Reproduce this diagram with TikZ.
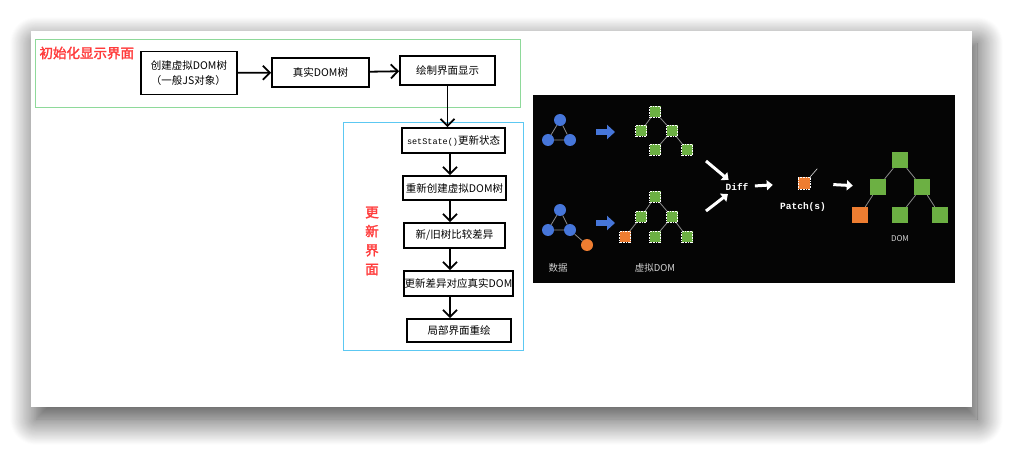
\documentclass[tikz,border=0pt]{standalone}
\usepackage{fontspec}
\newfontfamily\cjk{Noto Sans CJK SC}
\newfontfamily\cjkbold[FakeBold=2]{Noto Sans CJK SC}
\newfontfamily\mono{Liberation Mono}
\usetikzlibrary{arrows.meta,shadows.blur}
\definecolor{initgreen}{HTML}{8ED99A}
\definecolor{updblue}{HTML}{5CC8F2}
\definecolor{labelred}{HTML}{FF3B3B}
\definecolor{leafgreen}{HTML}{6CB043}
\definecolor{leaforange}{HTML}{EE7D31}
\definecolor{dotblue}{HTML}{4676DA}
\definecolor{edgegray}{HTML}{8C8C8C}
\definecolor{panelblack}{HTML}{050505}
\definecolor{captiongray}{HTML}{D2D2D2}

\begin{document}
\begin{tikzpicture}[x=1pt,y=-1pt,
    flowbox/.style={draw=black, line width=1.8pt, inner sep=1pt, font=\cjk\fontsize{10.5}{15}\selectfont},
    flowarrow/.style={line width=1.8pt, -{Straight Barb[length=7pt,width=14pt,line width=1.8pt]}},
    redlabel/.style={text=labelred, font=\cjkbold\fontsize{13.5}{19}\selectfont},
    vleaf/.style={fill=leafgreen, draw=white, dash pattern=on 0.8pt off 0.8pt, line width=0.6pt, minimum size=11pt, inner sep=0pt},
    vorange/.style={vleaf, fill=leaforange},
    leaf/.style={fill=leafgreen, minimum size=16pt, inner sep=0pt},
    oleaf/.style={leaf, fill=leaforange},
    dot/.style={circle, fill=dotblue, minimum size=12pt, inner sep=0pt},
    odot/.style={dot, fill=leaforange},
    link/.style={draw=edgegray, line width=0.8pt},
    bluearrow/.style={draw=dotblue, line width=6pt, -{Triangle[length=8pt,width=14pt]}},
    warrow/.style={draw=white, line width=3pt, -{Triangle[length=6pt,width=10pt]}},
    monotext/.style={text=white, font=\mono\bfseries\fontsize{9.5}{11}\selectfont},
    caption/.style={text=captiongray, font=\cjk\fontsize{9.5}{11}\selectfont}
  ]
  \useasboundingbox (0,0) rectangle (1035,470);

  \fill[white, blur shadow={shadow xshift=5pt, shadow yshift=-12pt, shadow blur radius=26pt, shadow opacity=75, shadow blur steps=30}] (31,31) rectangle (972,407);

  \draw[initgreen, line width=1pt] (35,40) rectangle (520,108);
  \node[redlabel, anchor=west] (initlabel) at (36,53) {初始化显示界面};
  \node[flowbox, minimum width=96pt, minimum height=43pt, align=left] (vdom) at (189,73) {创建虚拟DOM树\\（一般JS对象）};
  \node[flowbox, minimum width=97pt, minimum height=29pt] (rdom) at (320.5,72.5) {真实DOM树};
  \node[flowbox, minimum width=95pt, minimum height=29pt] (paint) at (447.5,70.5) {绘制界面显示};
  \draw[flowarrow] (vdom) -- (rdom);
  \draw[flowarrow] (rdom) -- (paint);

  \draw[updblue, line width=1pt] (343,123) rectangle (523,350);
  \node[redlabel, align=center] (updlabel) at (372,241) {更\\新\\界\\面};
  \node[flowbox, minimum width=103pt, minimum height=25pt] (setstate) at (453.5,140.5) {{\mono\fontsize{8.5}{10}\selectfont setState()}更新状态};
  \node[flowbox, minimum width=103pt, minimum height=24pt] (recreate) at (454.5,188) {重新创建虚拟DOM树};
  \node[flowbox, minimum width=101pt, minimum height=25pt] (compare) at (454.5,235.5) {新/旧树比较差异};
  \node[flowbox, minimum width=107pt, minimum height=25pt] (patchdom) at (458.5,283.5) {更新差异对应真实DOM};
  \node[flowbox, minimum width=104pt, minimum height=23pt] (repaint) at (459,330.5) {局部界面重绘};
  \coordinate (axis) at (450,0);
  \draw[flowarrow] (paint.south) -- (paint.south |- setstate.north);
  \draw[flowarrow] (setstate.south -| axis) -- (recreate.north -| axis);
  \draw[flowarrow] (recreate.south -| axis) -- (compare.north -| axis);
  \draw[flowarrow] (compare.south -| axis) -- (patchdom.north -| axis);
  \draw[flowarrow] (patchdom.south -| axis) -- (repaint.north -| axis);

  \fill[panelblack] (533,95) rectangle (955,283);

  \node[dot] (d1) at (560,120) {};
  \node[dot] (d2) at (548,140) {};
  \node[dot] (d3) at (570,140) {};
  \draw[link] (d1) -- (d2) (d1) -- (d3) (d2) -- (d3);
  \node[vleaf] (vt1) at (655,112) {};
  \node[vleaf] (vt2) at (641,131) {};
  \node[vleaf] (vt3) at (672,131) {};
  \node[vleaf] (vt4) at (655,150) {};
  \node[vleaf] (vt5) at (687,150) {};
  \draw[link] (vt1) -- (vt2) (vt1) -- (vt3) (vt3) -- (vt4) (vt3) -- (vt5);
  \coordinate (map1a) at (596,132);
  \coordinate (map1b) at (615,132);
  \draw[bluearrow] (map1a) -- (map1b);

  \node[dot] (e1) at (560,210) {};
  \node[dot] (e2) at (548,230) {};
  \node[dot] (e3) at (570,230) {};
  \node[odot] (e4) at (587,245) {};
  \draw[link] (e1) -- (e2) (e1) -- (e3) (e2) -- (e3) (e3) -- (e4);
  \node[vleaf] (vb1) at (655,197) {};
  \node[vleaf] (vb2) at (641,217) {};
  \node[vleaf] (vb3) at (672,217) {};
  \node[vorange] (vb4) at (625,237) {};
  \node[vleaf] (vb5) at (655,237) {};
  \node[vleaf] (vb6) at (687,237) {};
  \draw[link] (vb1) -- (vb2) (vb1) -- (vb3) (vb2) -- (vb4) (vb3) -- (vb5) (vb3) -- (vb6);
  \coordinate (map2a) at (596,223);
  \coordinate (map2b) at (615,223);
  \draw[bluearrow] (map2a) -- (map2b);

  \node[caption] (datalabel) at (558,268) {数据};
  \node[caption] (vdomlabel) at (655,268) {虚拟DOM};

  \node[monotext] (diff) at (737,187) {Diff};
  \coordinate (ina) at (706,161);
  \coordinate (inb) at (706,211);
  \draw[warrow] (ina) -- (diff);
  \draw[warrow] (inb) -- (diff);
  \node[vorange, minimum size=12pt] (patch) at (804,183) {};
  \draw[white!70!gray, line width=0.6pt] (patch.north east) -- ++(7,-8);
  \node[monotext] (patchlabel) at (803,207) {Patch(s)};

  \node[leaf] (f1) at (900,160) {};
  \node[leaf] (f2) at (878,187) {};
  \node[leaf] (f3) at (922,187) {};
  \node[oleaf] (f4) at (860,215) {};
  \node[leaf] (f5) at (900,215) {};
  \node[leaf] (f6) at (940,215) {};
  \draw[link] (f1) -- (f2) (f1) -- (f3) (f2) -- (f4) (f3) -- (f5) (f3) -- (f6);
  \node[caption, font=\cjk\fontsize{8}{10}\selectfont] (domlabel) at (900,239) {DOM};

  \draw[warrow, shorten <=3pt, shorten >=25pt] (diff) -- (patch);
  \draw[warrow, shorten <=23pt, shorten >=17pt] (patch) -- (f2);
\end{tikzpicture}
\end{document}
